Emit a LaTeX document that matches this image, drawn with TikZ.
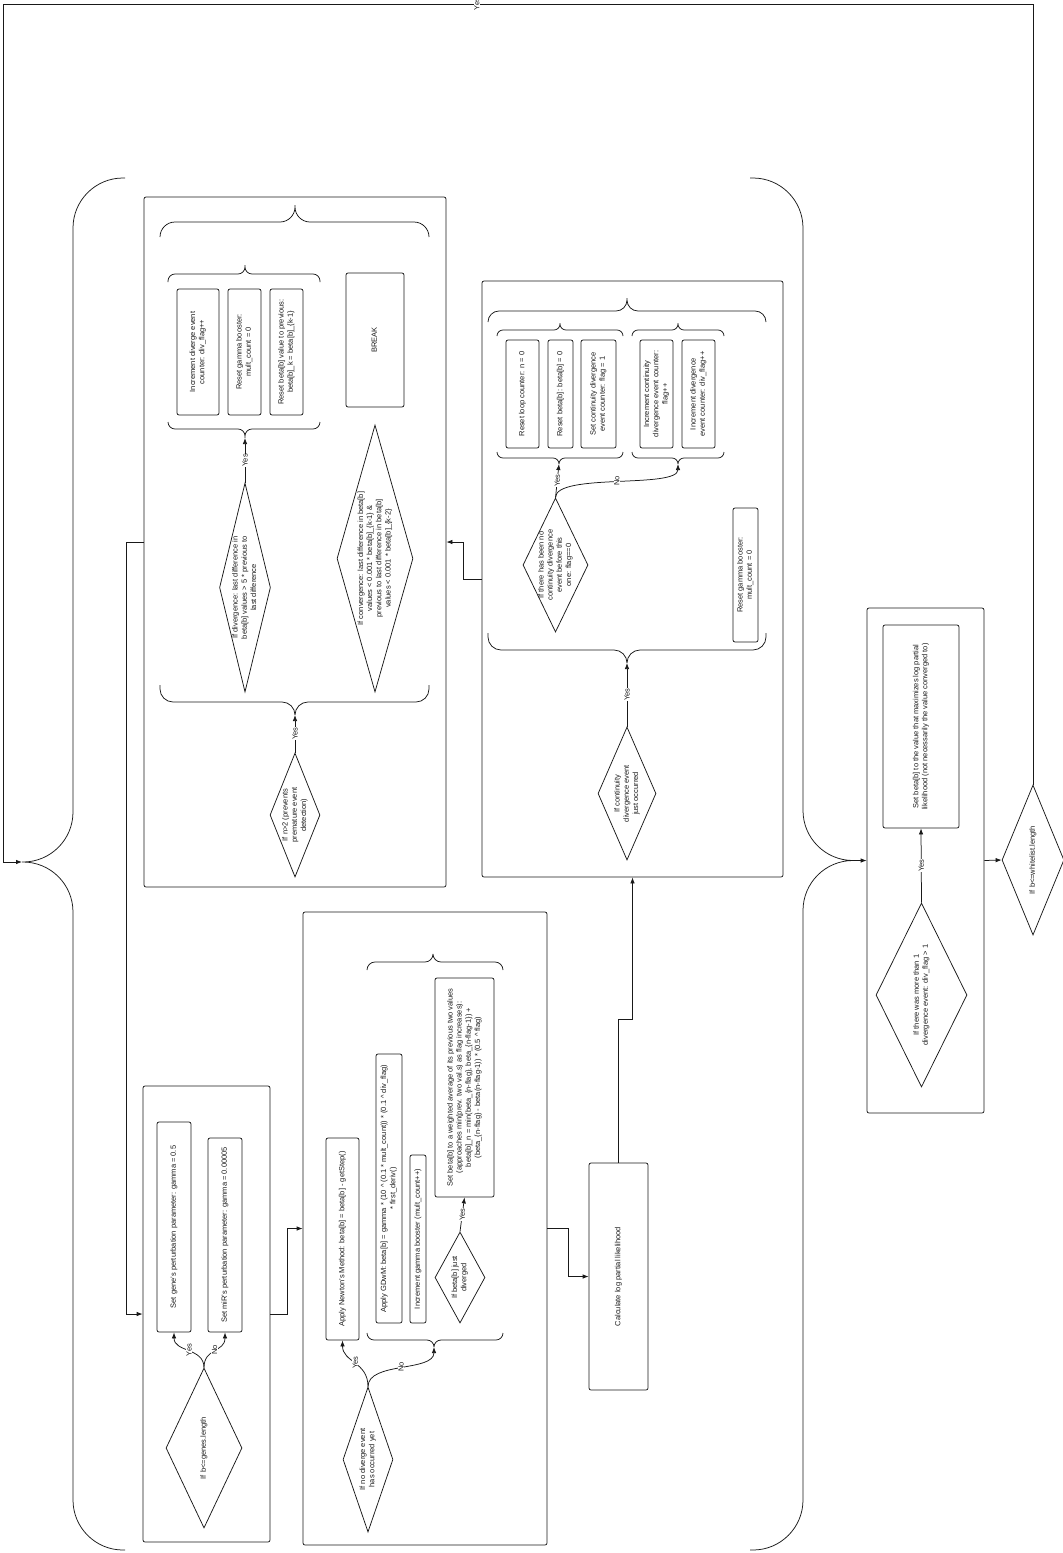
\documentclass[tikz,border=0pt]{standalone}
\usepackage{fontspec}
\setmainfont{Liberation Sans}
\usepackage{graphicx}
\usetikzlibrary{shapes.geometric,arrows.meta}
\newcommand{\rt}[1]{\rotatebox{90}{\begin{tabular}{@{}c@{}}#1\end{tabular}}}
\begin{document}
\begin{tikzpicture}[x=1pt,y=-1pt,>={Latex[length=6pt,width=4.5pt]},line width=0.75pt,color=black!90,font=\fontsize{7.5}{9.2}\selectfont]
\tikzstyle{grp}=[draw,rounded corners=2pt,inner sep=0pt]
\tikzstyle{box}=[draw,rounded corners=2pt,inner sep=1pt]
\tikzstyle{dec}=[draw,diamond,inner sep=-2pt]
\tikzstyle{lbl}=[fill=white,inner sep=0.5pt,rotate=90]
\useasboundingbox (0,0) rectangle (1063,1553);
\node[grp,minimum width=302pt,minimum height=690pt] (gA) at (295,542) {};
\node[grp,minimum width=127pt,minimum height=456pt] (gB) at (206.5,1314) {};
\node[grp,minimum width=244pt,minimum height=633pt] (gC) at (425,1228.5) {};
\node[grp,minimum width=301pt,minimum height=596pt] (gD) at (632.5,579) {};
\node[box,minimum width=59pt,minimum height=227pt] (gE) at (618.5,1276.5) {\rt{Calculate log partial likelihood}};
\node[grp,minimum width=117pt,minimum height=505pt] (gF) at (925.5,860.5) {};
\node[box,minimum width=42pt,minimum height=126pt] (a1) at (198,352) {\rt{Increment diverge event\\counter: div\_flag++}};
\node[box,minimum width=33pt,minimum height=126pt] (a2) at (244.5,352) {\rt{Reset gamma booster:\\mult\_count = 0}};
\node[box,minimum width=33pt,minimum height=126pt] (a3) at (286.5,352) {\rt{Reset beta[b] value to previous:\\beta[b]\_k = beta[b]\_\{k-1\}}};
\node[box,minimum width=58pt,minimum height=134pt] (brk) at (375,340) {\rt{BREAK}};
\node[dec,minimum width=51pt,minimum height=209pt,shape aspect=0.244] (dDiv) at (245,587.5) {\rt{If divergence: last difference in\\beta[b] values > 5 * previous to\\last difference}};
\node[dec,minimum width=76pt,minimum height=267pt,shape aspect=0.285] (dConv) at (375,558.5) {\rt{If convergence: last difference in beta[b]\\values < 0.001 * beta[b]\_\{k-1\} \&\\previous to last difference in beta[b]\\values < 0.001 * beta[b]\_\{k-2\}}};
\node[dec,minimum width=50pt,minimum height=124pt,shape aspect=0.403] (dN2) at (295,815) {\rt{If n>2 (prevents\\premature event\\detection)}};
\node[box,minimum width=34pt,minimum height=210pt] (b1) at (174,1227) {\rt{Set gene's perturbation parameter: gamma = 0.5}};
\node[box,minimum width=34pt,minimum height=194pt] (b2) at (225,1235) {\rt{Set miR's perturbation parameter: gamma = 0.00005}};
\node[dec,minimum width=76pt,minimum height=160pt,shape aspect=0.475] (dGenes) at (204,1448) {\rt{If b<=genes.length}};
\node[box,minimum width=33pt,minimum height=202pt] (c1) at (342.5,1239) {\rt{Apply Newton's Method: beta[b] = beta[b] - getStep()}};
\node[box,minimum width=26pt,minimum height=269pt] (c2) at (389,1188.5) {\rt{Apply GDwM: beta[b] = gamma * (10 \^{} (0.1 * mult\_count)) * (0.1 \^{} div\_flag)\\\relax * first\_deriv()}};
\node[box,minimum width=16pt,minimum height=168pt] (c3) at (418,1239) {\rt{Increment gamma booster (mult\_count++)}};
\node[box,minimum width=59pt,minimum height=219pt] (c4) at (464.5,1087.5) {\rt{Set beta[b] to a weighted average of its previous two values\\(approaches min(prev. two val.s) as flag increases):\\beta[b]\_n = min(beta\_\{n-flag\}, beta\_\{n-flag-1\}) +\\(beta\_\{n-flag\} - beta(n-flag-1)) * (0.5 \^{} flag)}};
\node[dec,minimum width=50pt,minimum height=91pt,shape aspect=0.549] (dJust) at (460,1277.5) {\rt{If beta[b] just\\diverged}};
\node[dec,minimum width=50pt,minimum height=145pt,shape aspect=0.345] (dNoDiv) at (368,1459.5) {\rt{If no diverge event\\has occurred yet}};
\node[box,minimum width=33pt,minimum height=108pt] (d1) at (522.5,394) {\rt{Reset loop counter: n = 0}};
\node[box,minimum width=25pt,minimum height=108pt] (d2) at (560.5,394) {\rt{Reset beta[b]: beta[b] = 0}};
\node[box,minimum width=35pt,minimum height=108pt] (d3) at (598.5,394) {\rt{Set continuity divergence\\event counter: flag = 1}};
\node[box,minimum width=33pt,minimum height=108pt] (d4) at (656.5,394) {\rt{Increment continuity\\divergence event counter:\\flag++}};
\node[box,minimum width=33pt,minimum height=108pt] (d5) at (698.5,394) {\rt{Increment divergence\\event counter: div\_flag++}};
\node[box,minimum width=25pt,minimum height=134pt] (d6) at (745.5,575) {\rt{Reset gamma booster:\\mult\_count = 0}};
\node[dec,minimum width=65pt,minimum height=134pt,shape aspect=0.485] (dNoCont) at (555.5,565) {\rt{If there has been no\\continuity divergence\\event before this\\one: flag==0}};
\node[dec,minimum width=58pt,minimum height=133pt,shape aspect=0.436] (dCont) at (627,793.5) {\rt{If continuity\\divergence event\\just occurred}};
\node[box,minimum width=76pt,minimum height=203pt] (f1) at (921,726.5) {\rt{Set beta[b] to the value that maximizes log partial\\likelihood (not necessarily the value converged to)}};
\node[dec,minimum width=91pt,minimum height=184pt,shape aspect=0.495] (dMore) at (921.5,995) {\rt{If there was more than 1\\divergence event: div\_flag > 1}};
\node[dec,minimum width=62pt,minimum height=150pt,shape aspect=0.413] (dWhite) at (1033,860) {\rt{If b<=whitelist.length}};
\coordinate (aIn) at (245,438);
\coordinate (aOut) at (295,715);
\coordinate (cIn) at (434,1347);
\coordinate (dL) at (559,464);
\coordinate (dR) at (678,464);
\coordinate (dOut) at (627,663);
\coordinate (brL) at (22,862);
\coordinate (brR) at (856,860.5);
\coordinate (loopTL) at (3,4);
\draw[rounded corners=50pt] (125,178) -| (73,862) -- (brL) (125,1550) -| (73,862) -- (brL);
\draw[rounded corners=50pt] (750,178) -| (803,860.5) -- (brR) (750,1550) -| (803,860.5) -- (brR);
\draw[rounded corners=15pt] (160,237) |- (295,222) -- (295,205) (429,237) |- (295,222) -- (295,205);
\draw[rounded corners=7pt] (168,282) |- (245,274) -- (245,265) (320,282) |- (245,274) -- (245,265);
\draw[rounded corners=7pt] (168,422) |- (245,429) -- (aIn) (320,422) |- (245,429) -- (aIn);
\draw[rounded corners=13pt] (160,685) |- (295,702) -- (aOut) (429,685) |- (295,702) -- (aOut);
\draw[rounded corners=8pt] (367,970) |- (433,962) -- (433,954) (503,970) |- (433,962) -- (433,954);
\draw[rounded corners=7pt] (367,1333) |- (434,1340) -- (cIn) (503,1333) |- (434,1340) -- (cIn);
\draw[rounded corners=11pt] (488,322) |- (627,311) -- (627,298) (766,322) |- (627,311) -- (627,298);
\draw[rounded corners=6pt] (497,336) |- (560,330) -- (560,323) (623,336) |- (560,330) -- (560,323);
\draw[rounded corners=6pt] (632,336) |- (678,330) -- (678,323) (724,336) |- (678,330) -- (678,323);
\draw[rounded corners=6pt] (497,452) |- (559,458) -- (dL) (623,452) |- (559,458) -- (dL);
\draw[rounded corners=6pt] (632,452) |- (678,458) -- (dR) (724,452) |- (678,458) -- (dR);
\draw[rounded corners=13pt] (488,633) |- (627,650) -- (dOut) (766,633) |- (627,650) -- (dOut);
\draw[->] (gA.west) -- ++(-17,0) |- (gB.west);
\draw[->] (gB.east) -- ++(17,0) |- (gC.west);
\draw[->] (gC.east) -- ++(21,0) |- (gE.west);
\draw[->] (gE.north) -- ++(0,-143) -| (gD.south);
\draw[->] (gD.west) -- ++(-18,0) |- (gA.east);
\draw[->] (gF.east) -- (dWhite.west);
\draw[->] (brR) -- (gF.west);
\draw[->] (dWhite.north) |- node[lbl,pos=0.77]{Yes} (loopTL) |- (brL);
\draw[->] (dDiv.north) -- node[lbl]{Yes} (aIn);
\draw[->] (dN2.north) -- node[lbl]{Yes} (aOut);
\draw[->] (dGenes.north) .. controls +(0,-20) and +(0,20) .. node[lbl]{Yes} (b1.south);
\draw[->] (dGenes.north) .. controls +(0,-20) and +(0,20) .. node[lbl]{No} (b2.south);
\draw[->] (dNoDiv.north) .. controls +(0,-25) and +(0,22) .. node[lbl]{Yes} (c1.south);
\draw[->] (dNoDiv.north) .. controls +(0,-25) and +(0,25) .. node[lbl]{No} (cIn);
\draw[->] (dJust.north) -- node[lbl]{Yes} (c4.south);
\draw[->] (dNoCont.north) -- node[lbl]{Yes} (dL);
\draw[->] (dNoCont.north) .. controls +(0,-25) and +(0,25) .. node[lbl]{No} (dR);
\draw[->] (dCont.north) -- node[lbl]{Yes} (dOut);
\draw[->] (dMore.north) -- node[lbl]{Yes} (f1.south);
\end{tikzpicture}
\end{document}
